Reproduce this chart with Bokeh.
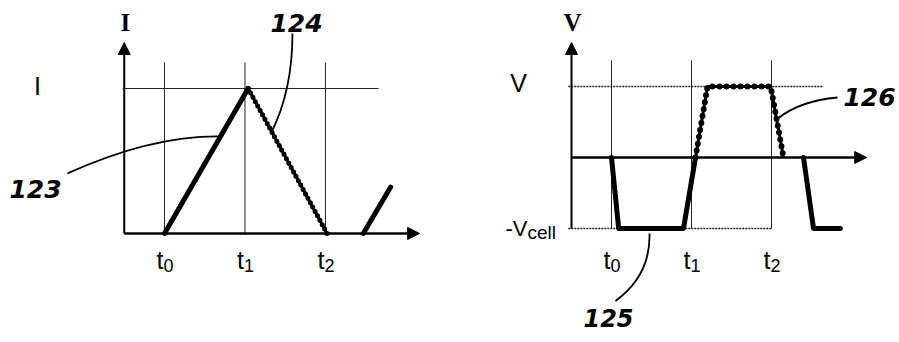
from bokeh.plotting import figure
from bokeh.layouts import row
from bokeh.models import Range1d, Arrow, NormalHead, Label
from bokeh.embed import file_html
from bokeh.resources import INLINE

# ---------------- data ----------------
tick_t = [1, 2, 3]
tick_sub = ["0", "1", "2"]

# left panel: current I
i_level = 1.0
i123_t = [1.0, 2.04]
i123 = [0.0, 1.0]
i124_t = [2.04, 3.02]
i124 = [1.0, 0.0]
i123b_t = [3.47, 3.81]
i123b = [0.0, 0.32]

# right panel: voltage V
v_level = 1.0
vcell_level = -1.0
v125a_t = [1.0, 1.09, 1.90, 2.05]
v125a = [0.0, -1.0, -1.0, 0.0]
v126_t = [2.05, 2.20, 2.99, 3.15]
v126 = [0.0, 1.0, 1.0, 0.0]
v125b_t = [3.40, 3.525, 3.86]
v125b = [0.0, -1.0, -1.0]

NUM_FONT = "DejaVu Sans"
SANS = "Liberation Sans"
SERIF = "Liberation Serif"
H = 334


def make_fig(w, xr, yr):
    p = figure(width=w, height=H, x_range=Range1d(*xr), y_range=Range1d(*yr),
               output_backend="svg", toolbar_location=None,
               x_axis_location=None, y_axis_location=None, min_border=0,
               outline_line_color=None, background_fill_color="white",
               border_fill_color="white")
    p.xgrid.visible = False
    p.ygrid.visible = False
    return p


def lab(p, x, y, text, font, size, style="normal", align="center", xo=0, yo=0):
    p.add_layout(Label(x=x, y=y, text=text, text_font=font, text_font_size=size,
                       text_font_style=style, text_align=align, text_baseline="middle",
                       text_color="black", x_offset=xo, y_offset=yo))


def axes(p, x0, y0, xtip, ytip, ybottom):
    p.add_layout(Arrow(end=NormalHead(size=12, fill_color="black", line_color="black", line_width=1),
                       x_start=x0, y_start=ybottom, x_end=x0, y_end=ytip,
                       line_width=2, line_color="black"))
    p.add_layout(Arrow(end=NormalHead(size=12, fill_color="black", line_color="black", line_width=1),
                       x_start=x0, y_start=y0, x_end=xtip, y_end=y0,
                       line_width=2.5, line_color="black"))


def tlabels(p, ymid):
    for t, s in zip(tick_t, tick_sub):
        lab(p, t, ymid, "t", SANS, "25px", align="right", xo=-1)
        lab(p, t, ymid, s, SANS, "18px", align="left", xo=-1, yo=-5)


def beaded(p, xs, ys, w_line, w_dot, gap):
    p.line(xs, ys, line_width=w_line, line_color="black", line_join="round")
    p.line(xs, ys, line_width=w_dot, line_color="black", line_dash=f"0 {gap}",
           line_cap="round", line_join="round")


# ---------------- left panel ----------------
pl = make_fig(449, (-1.037, 4.541), (-0.697, 1.607))
pl.segment(x0=tick_t, y0=[0] * 3, x1=tick_t, y1=[1.18] * 3, line_width=1, line_color="#222222")
pl.segment(x0=[0.48], y0=[i_level], x1=[3.66], y1=[i_level], line_width=1.2, line_color="#222222")
axes(pl, 0.5, 0.0, 4.17, 1.317, 0.0)
pl.line(i123_t, i123, line_width=5, line_color="black", line_cap="round")
pl.line(i123b_t, i123b, line_width=5, line_color="black", line_cap="round")
beaded(pl, i124_t, i124, 3, 5, 5)
pl.quadratic(x0=[-0.205], y0=[0.414], x1=[1.70], y1=[0.67], cx=[0.83], cy=[0.676],
             line_width=1.8, line_color="black")
pl.quadratic(x0=[2.59], y0=[1.379], x1=[2.33], y1=[0.70], cx=[2.59], cy=[0.986],
             line_width=1.8, line_color="black")
lab(pl, 0.515, 1.455, "I", SERIF, "25px", style="bold")
lab(pl, -0.578, i_level, "I", SANS, "25px", yo=2)
lab(pl, -0.602, 0.31, "123", NUM_FONT, "25px", style="bold italic")
lab(pl, 2.64, 1.455, "124", NUM_FONT, "25px", style="bold italic")
tlabels(pl, -0.186)

# ---------------- right panel ----------------
pr = make_fig(450, (-1.025, 4.6), (-2.493, 2.211))
pr.segment(x0=tick_t, y0=[-1.0] * 3, x1=tick_t, y1=[1.366] * 3, line_width=1, line_color="#222222")
pr.segment(x0=[0.46], y0=[v_level], x1=[3.65], y1=[v_level], line_width=1.4,
           line_color="#222222", line_dash="2 1")
pr.segment(x0=[0.46], y0=[vcell_level], x1=[3.0], y1=[vcell_level], line_width=1.4,
           line_color="#222222", line_dash="2 1")
axes(pr, 0.5, 0.0, 4.19, 1.62, -1.0)
pr.line(v125a_t, v125a, line_width=5, line_color="black", line_cap="round", line_join="round")
pr.line(v125b_t, v125b, line_width=5, line_color="black", line_cap="round", line_join="round")
beaded(pr, v126_t, v126, 3, 6, 7)
pr.quadratic(x0=[1.05], y0=[-2.02], x1=[1.475], y1=[-1.07], cx=[1.49], cy=[-1.66],
             line_width=1.8, line_color="black")
pr.quadratic(x0=[3.825], y0=[0.845], x1=[3.08], y1=[0.55], cx=[3.36], cy=[0.80],
             line_width=1.8, line_color="black")
lab(pr, 0.5125, 1.90, "V", SERIF, "25px", style="bold")
lab(pr, -0.16, v_level, "V", SANS, "25px", yo=3)
lab(pr, -0.05, vcell_level, "-V", SANS, "22px", align="right")
lab(pr, -0.05, vcell_level, "cell", SANS, "19px", align="left", yo=-4)
lab(pr, 0.9625, -2.254, "125", NUM_FONT, "24px", style="bold italic")
lab(pr, 4.225, 0.845, "126", NUM_FONT, "25px", style="bold italic")
tlabels(pr, -1.45)

layout = row(pl, pr)
open("out.html", "w").write(file_html(layout, INLINE))
